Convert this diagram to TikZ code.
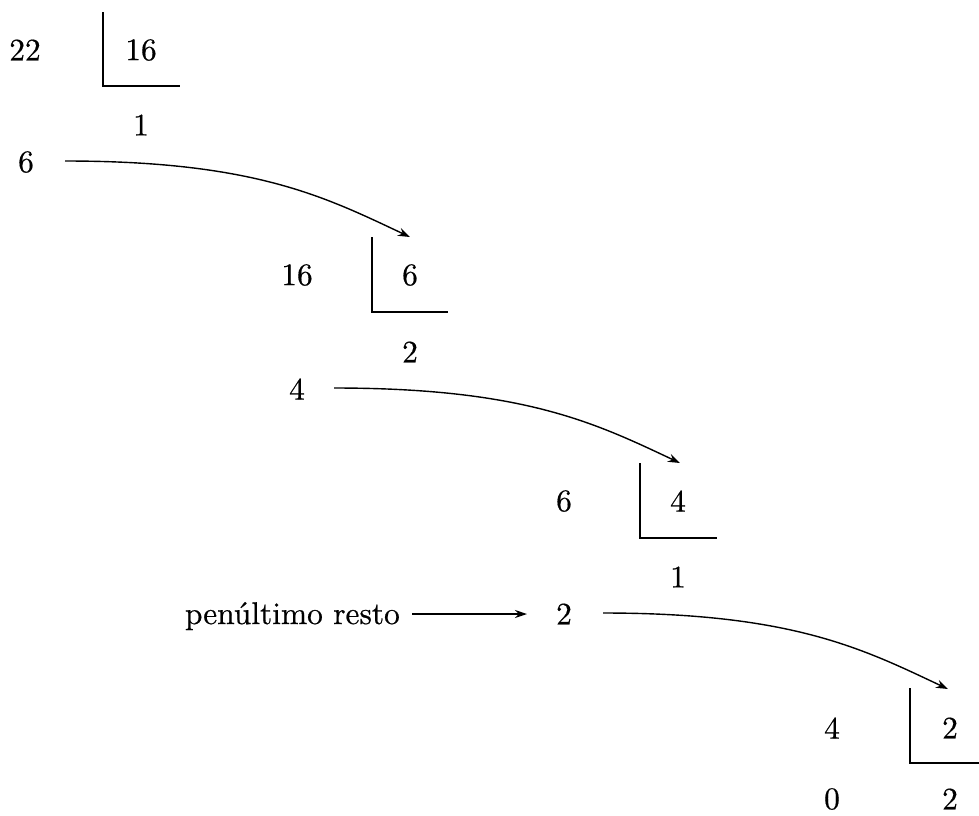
\documentclass[tikz,border=0pt]{standalone}
\usepackage{fontspec}
\setmainfont{lmroman10-regular.otf}[FakeBold=0.5]
\usetikzlibrary{arrows.meta}
\begin{document}
\begin{tikzpicture}[x=1pt,y=-1pt,
  num/.style={inner sep=0pt,font=\fontsize{31.4}{38}\selectfont},
  bar/.style={line width=1.6pt},
  arr/.style={line width=1.4pt,-{Stealth[length=12pt,width=8.5pt]}}]
\useasboundingbox (0,0) rectangle (979,815);
% block 1
\node[num] (a1) at (25,50) {22};
\node[num] (b1) at (141,50) {16};
\node[num] (q1) at (141,125) {1};
\node[num] (r1) at (26,162) {6};
\coordinate (v1t) at (103,12); \coordinate (v1b) at (103,86); \coordinate (h1e) at (180,86);
\draw[bar] (v1t) -- (v1b) -- (h1e);
% block 2
\node[num] (a2) at (297,275) {16};
\node[num] (b2) at (410,275) {6};
\node[num] (q2) at (410,352) {2};
\node[num] (r2) at (297,389) {4};
\coordinate (v2t) at (372,237); \coordinate (v2b) at (372,312); \coordinate (h2e) at (448,312);
\draw[bar] (v2t) -- (v2b) -- (h2e);
% block 3
\node[num] (a3) at (564,501) {6};
\node[num] (b3) at (678,501) {4};
\node[num] (q3) at (678,577) {1};
\node[num] (r3) at (564,614) {2};
\node[num,anchor=base east] (pen) at (400,624) {pen\'ultimo resto};
\coordinate (v3t) at (640,463); \coordinate (v3b) at (640,538); \coordinate (h3e) at (717,538);
\draw[bar] (v3t) -- (v3b) -- (h3e);
% block 4
\node[num] (a4) at (832,728) {4};
\node[num] (b4) at (950,728) {2};
\node[num] (q4) at (950,799) {2};
\node[num] (r4) at (832,799) {0};
\coordinate (v4t) at (910,688); \coordinate (v4b) at (910,763); \coordinate (h4e) at (979,763);
\draw[bar] (v4t) -- (v4b) -- (h4e);
% arrows
\coordinate (s1) at (65,161); \coordinate (e1) at (410,237);
\coordinate (s2) at (334,388); \coordinate (e2) at (680,463);
\coordinate (s3) at (603,613); \coordinate (e3) at (948,689);
\draw[arr] (s1) .. controls +(190,0) and +(-85,-40) .. (e1);
\draw[arr] (s2) .. controls +(190,0) and +(-85,-40) .. (e2);
\draw[arr] (s3) .. controls +(190,0) and +(-85,-40) .. (e3);
\coordinate (p1) at (412,614); \coordinate (p2) at (527,614);
\draw[line width=1.4pt,-{Stealth[length=12pt,width=8pt]}] (p1) -- (p2);
\end{tikzpicture}
\end{document}
